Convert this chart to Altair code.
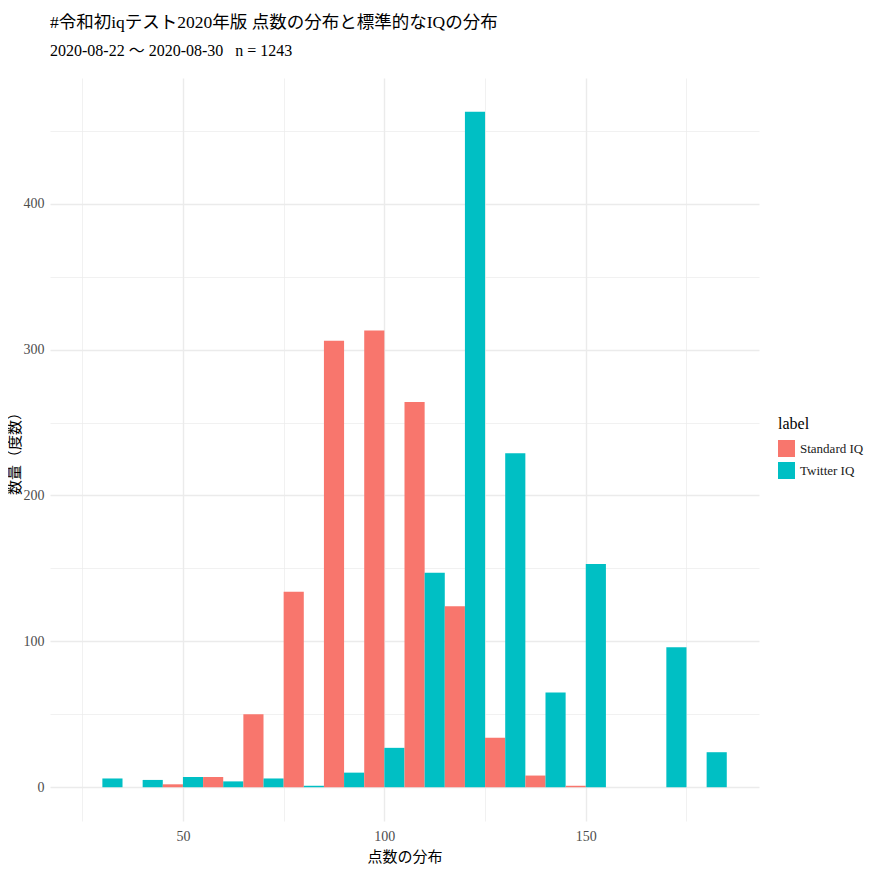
import altair as alt
import pandas as pd

# bin centres (binwidth 10)
bin_centers = [30, 40, 50, 60, 70, 80, 90, 100, 110, 120, 130, 140, 150, 160, 170, 180]
standard_iq = [0, 0, 2, 7, 50, 134, 306, 313, 264, 124, 34, 8, 1, 0, 0, 0]
twitter_iq = [6, 5, 7, 4, 6, 1, 10, 27, 147, 463, 229, 65, 153, 0, 96, 24]
labels = ["Standard IQ", "Twitter IQ"]
colors = ["#F8766D", "#00BFC4"]

rows = []
for c, s, t in zip(bin_centers, standard_iq, twitter_iq):
    rows.append({"center": c, "label": labels[0], "count": s})
    rows.append({"center": c, "label": labels[1], "count": t})
df = pd.DataFrame(rows)

LAT = "Liberation Serif, Noto Sans CJK JP"
NB = "\u00a0"

chart = (
    alt.Chart(df)
    .transform_filter("datum.count > 0")
    .transform_calculate(
        start="datum.center - 5 + (datum.label === 'Twitter IQ' ? 5 : 0)",
        end="datum.center + (datum.label === 'Twitter IQ' ? 5 : 0)",
    )
    .mark_rect()
    .encode(
        x=alt.X(
            "start:Q",
            title="点数の分布",
            scale=alt.Scale(domain=[17, 193], nice=False, zero=False),
            axis=alt.Axis(
                values=[25, 50, 75, 100, 125, 150, 175],
                labelExpr="datum.value % 50 === 0 ? datum.label : ''",
                gridWidth={"condition": {"test": "datum.value % 50 === 0", "value": 1.4}, "value": 0.7},
            ),
        ),
        x2="end:Q",
        y=alt.Y(
            "count:Q",
            title="数量（度数）",
            scale=alt.Scale(domain=[-23.15, 486.15], nice=False, zero=False),
            axis=alt.Axis(
                values=[0, 50, 100, 150, 200, 250, 300, 350, 400, 450],
                labelExpr="datum.value % 100 === 0 ? datum.label : ''",
                gridWidth={"condition": {"test": "datum.value % 100 === 0", "value": 1.4}, "value": 0.7},
            ),
        ),
        y2=alt.datum(0),
        color=alt.Color(
            "label:N",
            title="label",
            scale=alt.Scale(domain=labels, range=colors),
            legend=alt.Legend(
                orient="none",
                legendX=728,
                legendY=338,
                symbolType="square",
                symbolSize=289,
                symbolStrokeWidth=0,
                symbolOpacity=1,
                rowPadding=5,
                titleFontSize=16,
                titleFontWeight="normal",
                titleFont=LAT,
                titleColor="#000000",
                titlePadding=8,
                labelFontSize=13,
                labelOffset=5,
                labelFont=LAT,
                labelColor="#1a1a1a",
            ),
        ),
    )
    .properties(
        width=709,
        height=743,
        padding={"left": 42, "top": 70, "right": 107, "bottom": 45},
        autosize=alt.AutoSizeParams(type="none"),
        title=alt.TitleParams(
            text="#令和初iqテスト2020年版 点数の分布と標準的なIQの分布",
            subtitle=f"2020-08-22 〜 2020-08-30{NB}{NB}{NB}n = 1243",
            anchor="start",
            frame="group",
            font=LAT,
            fontSize=17.5,
            fontWeight="normal",
            color="#000000",
            subtitleFont=LAT,
            subtitleFontSize=16,
            subtitleColor="#000000",
            subtitlePadding=12,
            offset=19,
        ),
    )
    .configure_view(stroke=None)
    .configure_axis(
        domain=False,
        ticks=False,
        gridColor="#ebebeb",
        labelFont=LAT,
        labelFontSize=14,
        labelColor="#4d4d4d",
        titleFont=LAT,
        titleFontSize=15,
        titleFontWeight="normal",
        titleColor="#000000",
    )
    .configure_axisX(labelPadding=8, titlePadding=6)
    .configure_axisY(labelPadding=6, titlePadding=1)
)

chart.save("out.html", embed_options={"renderer": "svg", "actions": False})
